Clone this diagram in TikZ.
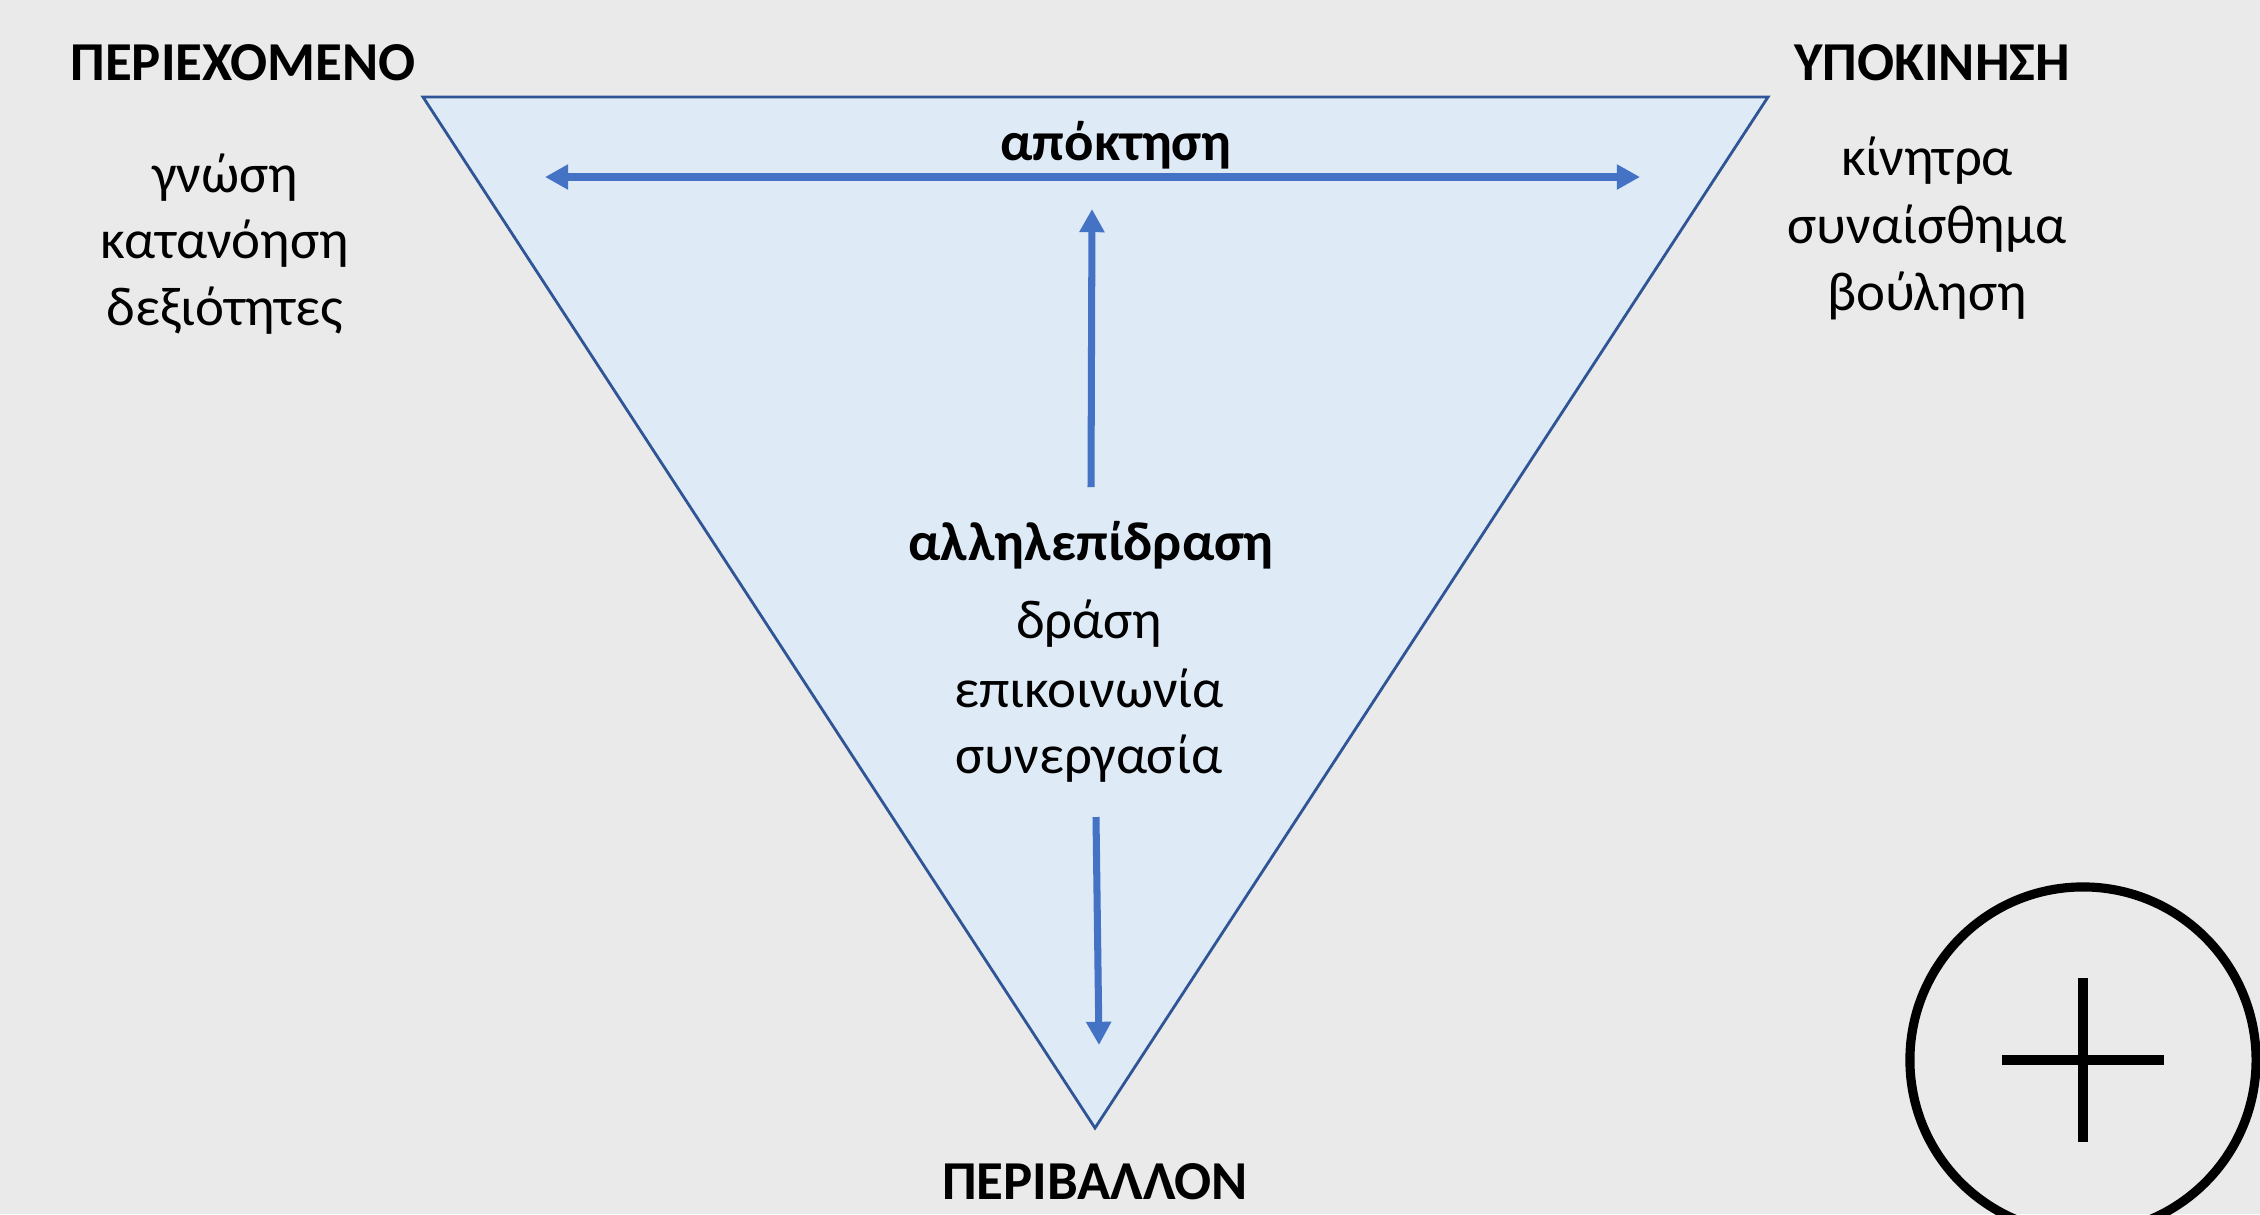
\documentclass[tikz,border=0pt]{standalone}
\usepackage{fontspec}
\setmainfont{Carlito}
\usetikzlibrary{arrows.meta}
\definecolor{bgc}{HTML}{EAEAEA}
\definecolor{trifill}{HTML}{DEEAF6}
\definecolor{tridraw}{HTML}{2F5597}
\definecolor{arr}{HTML}{4472C4}
\tikzset{
  head/.style={font=\fontsize{15.6}{19}\selectfont\bfseries, inner sep=0pt, anchor=base},
  body/.style={font=\fontsize{15.6}{19}\selectfont, inner sep=0pt, anchor=base},
  conn/.style={draw=arr, line width=2pt, -{Triangle[length=6.6pt,width=6.8pt]}},
}
\begin{document}
\begin{tikzpicture}[x=0.01cm,y=-0.01cm]
\useasboundingbox (0,0) rectangle (2260,1214);
\clip (0,0) rectangle (2260,1214);
\fill[bgc] (0,0) rectangle (2260,1214);
% triangle
\draw[fill=trifill, draw=tridraw, line width=0.8pt, line join=miter] (423,97) -- (1768,97) -- (1095,1128) -- cycle;
% headings
\node[head] (perie) at (243,80) {ΠΕΡΙΕΧΟΜΕΝΟ};
\node[head] (ypok) at (1932,80) {ΥΠΟΚΙΝΗΣΗ};
\node[head] (periv) at (1095,1199) {ΠΕΡΙΒΑΛΛΟΝ};
% left list
\node[body] (l1) at (225,192) {γνώση};
\node[body] (l2) at (225,258) {κατανόηση};
\node[body] (l3) at (225,325) {δεξιότητες};
% right list
\node[body] (r1) at (1927,175) {κίνητρα};
\node[body] (r2) at (1927,243) {συναίσθημα};
\node[body] (r3) at (1927,310) {βούληση};
% centre
\node[head] (apo) at (1116,160) {απόκτηση};
\node[head] (allil) at (1091,560) {αλληλεπίδραση};
\node[body] (c1) at (1089,638) {δράση};
\node[body] (c2) at (1089,707) {επικοινωνία};
\node[body] (c3) at (1089,773) {συνεργασία};
% arrows
\coordinate (hl) at (545,177);
\coordinate (hr) at (1640,177);
\coordinate (us) at (1091,487);
\coordinate (ue) at (1092,209);
\coordinate (ds) at (1096,817);
\coordinate (de) at (1099,1045);
\draw[conn, {Triangle[length=6.6pt,width=6.8pt]}-{Triangle[length=6.6pt,width=6.8pt]}] (hl) -- (hr);
\draw[conn] (us) -- (ue);
\draw[conn] (ds) -- (de);
% plus-circle
\node[draw=black, line width=2.6pt, circle, minimum size=346*0.2845pt, inner sep=0pt] (pc) at (2083,1060) {};
\coordinate (pl) at (2002,1060);
\coordinate (pr) at (2164,1060);
\coordinate (pt) at (2083,978);
\coordinate (pb) at (2083,1142);
\draw[line width=2.6pt] (pl) -- (pr);
\draw[line width=2.6pt] (pt) -- (pb);
\end{tikzpicture}
\end{document}
